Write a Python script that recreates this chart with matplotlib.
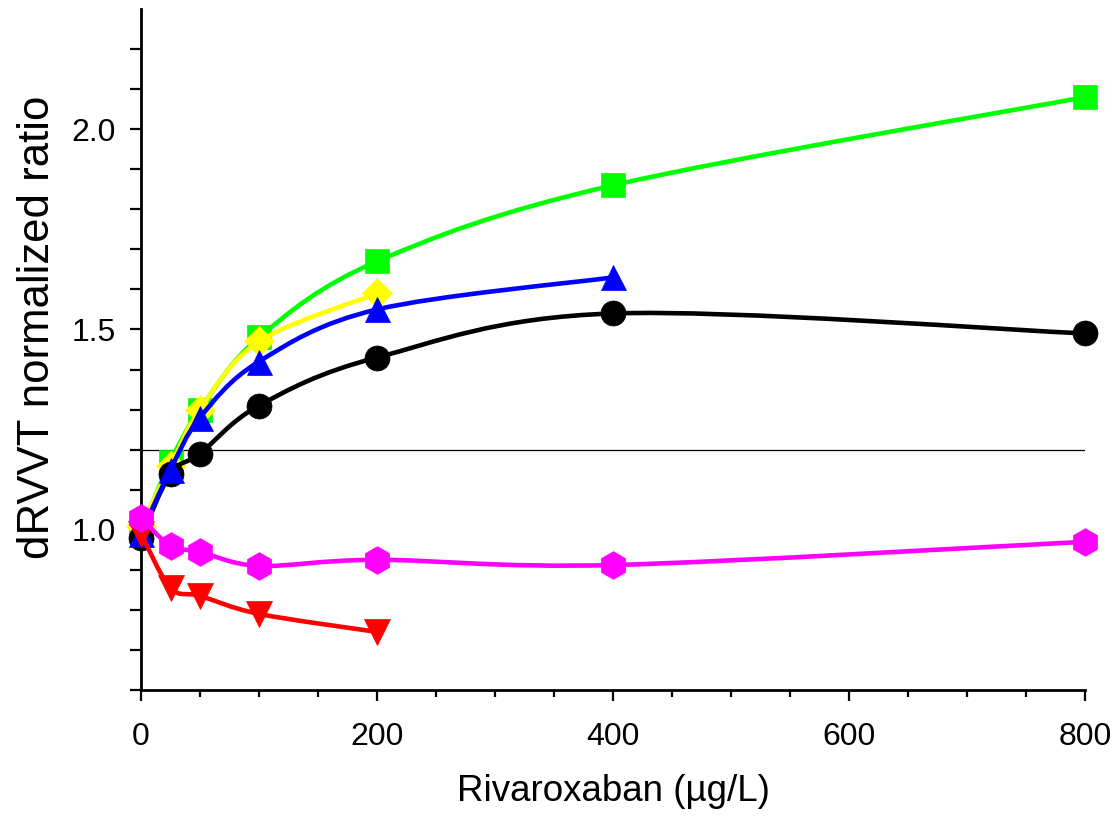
import numpy as np
import matplotlib
matplotlib.use("Agg")
import matplotlib.pyplot as plt
from matplotlib.path import Path
from matplotlib.patches import PathPatch
from matplotlib.ticker import FixedLocator

plt.rcParams['font.family'] = ['Liberation Sans', 'DejaVu Sans']

# Data
x_full = [0, 25, 50, 100, 200, 400, 800]
x_short = [0, 25, 50, 100, 200]
x_blue = [0, 25, 50, 100, 200, 400]

green_y = [1.00, 1.17, 1.30, 1.48, 1.67, 1.86, 2.08]
yellow_y = [1.01, 1.16, 1.30, 1.47, 1.59]
blue_y = [0.99, 1.15, 1.28, 1.42, 1.55, 1.63]
black_y = [0.98, 1.14, 1.19, 1.31, 1.43, 1.54, 1.49]
magenta_y = [1.03, 0.96, 0.945, 0.91, 0.925, 0.912, 0.97]
red_y = [0.99, 0.855, 0.835, 0.79, 0.745]

threshold = 1.2

fig = plt.figure(figsize=(11.2, 8.24), dpi=100)
ax = fig.add_axes([141/1120, 1 - 690/824, (1085-141)/1120, (690-9)/824])


def smooth_path(xs, ys):
    pts = np.column_stack([xs, ys]).astype(float)
    n = len(pts)
    verts = [pts[0]]
    codes = [Path.MOVETO]
    for i in range(n - 1):
        p0 = pts[i - 1] if i > 0 else pts[i]
        p1 = pts[i]
        p2 = pts[i + 1]
        p3 = pts[i + 2] if i + 2 < n else pts[i + 1]
        c1 = p1 + (p2 - p0) / 6.0
        c2 = p2 - (p3 - p1) / 6.0
        verts += [c1, c2, p2]
        codes += [Path.CURVE4] * 3
    return Path(verts, codes)


def series(xs, ys, color, marker, ms, z):
    patch = PathPatch(smooth_path(xs, ys), facecolor='none', edgecolor=color,
                      lw=3.3, zorder=z, capstyle='round', joinstyle='round')
    patch.set_clip_on(False)
    ax.add_patch(patch)
    ax.plot(xs, ys, linestyle='none', marker=marker, markersize=ms,
            color=color, markeredgecolor=color, markeredgewidth=0.5,
            zorder=z + 0.5, clip_on=False)


ax.hlines(threshold, 0, 800, color='black', lw=0.9, zorder=1)

series(x_full, green_y, '#00ff00', 's', 17, 2)
series(x_short, yellow_y, '#ffff00', 'D', 15, 3)
series(x_full, black_y, 'black', 'o', 18, 4)
series(x_blue, blue_y, '#0000ff', '^', 18, 5)
series(x_short, red_y, '#ff0000', 'v', 19, 6)
series(x_full, magenta_y, '#ff00ff', 'h', 20, 7)

ax.set_xlim(0, 800)
ax.set_ylim(0.6, 2.3)

ax.set_xticks([0, 200, 400, 600, 800])
ax.xaxis.set_minor_locator(FixedLocator(np.arange(0, 801, 50)))
ax.set_yticks([1.0, 1.5, 2.0])
ax.set_yticklabels(['1.0', '1.5', '2.0'])
ax.yaxis.set_minor_locator(FixedLocator(np.round(np.arange(0.6, 2.21, 0.1), 2)))

for s in ['top', 'right']:
    ax.spines[s].set_visible(False)
for s in ['left', 'bottom']:
    ax.spines[s].set_linewidth(2)
    ax.spines[s].set_color('black')

ax.tick_params(axis='x', which='major', length=8, width=1.6, labelsize=23, pad=15, direction='out')
ax.tick_params(axis='x', which='minor', length=5, width=1.6, direction='out')
ax.tick_params(axis='y', which='major', length=8, width=1.6, labelsize=23, pad=10, direction='out')
ax.tick_params(axis='y', which='minor', length=8, width=1.6, direction='out')

ax.set_xlabel('Rivaroxaban (µg/L)', fontsize=26.5, labelpad=16)
ax.set_ylabel('dRVVT normalized ratio', fontsize=31.5, labelpad=10)
ax.yaxis.label.set_y(0.533)

fig.savefig('out.png', dpi=100)
